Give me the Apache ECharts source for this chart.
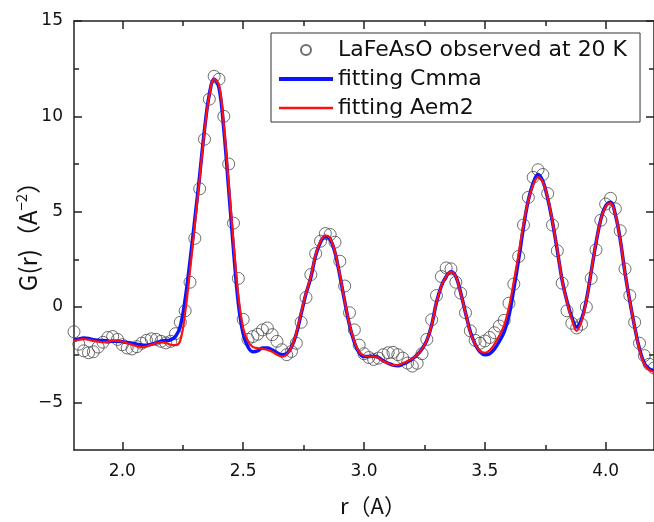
<!DOCTYPE html>
<html><head><meta charset="utf-8">
<script src="https://cdn.jsdelivr.net/npm/echarts@6/dist/echarts.min.js"></script>
<style>html,body{margin:0;padding:0;background:#fff}#c{width:654px;height:522px}</style>
</head><body><div id="c"></div>
<script>
const r = [1.80,1.82,1.84,1.86,1.88,1.90,1.92,1.94,1.96,1.98,2.00,2.02,2.04,2.06,2.08,2.10,2.12,2.14,2.16,2.18,
2.20,2.22,2.24,2.26,2.28,2.30,2.32,2.34,2.36,2.38,2.40,2.42,2.44,2.46,2.48,2.50,2.52,2.54,2.56,2.58,
2.60,2.62,2.64,2.66,2.68,2.70,2.72,2.74,2.76,2.78,2.80,2.82,2.84,2.86,2.88,2.90,2.92,2.94,2.96,2.98,
3.00,3.02,3.04,3.06,3.08,3.10,3.12,3.14,3.16,3.18,3.20,3.22,3.24,3.26,3.28,3.30,3.32,3.34,3.36,3.38,
3.40,3.42,3.44,3.46,3.48,3.50,3.52,3.54,3.56,3.58,3.60,3.62,3.64,3.66,3.68,3.70,3.72,3.74,3.76,3.78,
3.80,3.82,3.84,3.86,3.88,3.90,3.92,3.94,3.96,3.98,4.00,4.02,4.04,4.06,4.08,4.10,4.12,4.14,4.16,4.18,4.20];

const observed = [-1.3,-1.95,-2.3,-2.4,-2.35,-2.1,-1.85,-1.6,-1.55,-1.7,-1.98,-2.15,-2.2,-2.08,-1.9,-1.75,-1.67,-1.7,-1.8,-1.88,
-1.8,-1.4,-0.8,-0.2,1.3,3.6,6.2,8.8,10.9,12.1,11.95,10.0,7.5,4.4,1.5,-0.65,-1.7,-1.55,-1.43,-1.2,
-1.1,-1.45,-1.8,-2.24,-2.5,-2.33,-1.9,-0.8,0.5,1.7,2.8,3.45,3.85,3.8,3.4,2.4,1.1,-0.3,-1.2,-2.0,
-2.45,-2.65,-2.75,-2.68,-2.5,-2.4,-2.38,-2.5,-2.68,-2.94,-3.1,-2.95,-2.45,-1.7,-0.67,0.6,1.6,2.05,2.0,1.3,
0.73,-0.3,-1.25,-1.75,-1.9,-1.78,-1.6,-1.35,-1.0,-0.7,0.2,1.2,2.65,4.3,5.75,6.8,7.2,6.95,5.95,4.3,
2.95,1.25,-0.2,-0.85,-1.1,-0.9,0.0,1.5,3.0,4.55,5.4,5.7,5.15,4.0,2.0,0.6,-0.8,-1.9,-2.55,-3.0,-3.2];

const fitCmma = [-1.75,-1.68,-1.63,-1.65,-1.72,-1.75,-1.76,-1.78,-1.8,-1.8,-1.82,-1.86,-1.9,-1.95,-1.99,-2.0,-1.96,-1.88,-1.8,-1.76,
-1.72,-1.55,-1.0,0.4,2.4,4.6,6.9,9.3,11.15,11.95,11.5,9.3,6.2,3.0,0.2,-1.4,-2.1,-2.35,-2.3,-2.15,
-2.15,-2.25,-2.4,-2.5,-2.45,-2.1,-1.4,-0.35,0.7,1.55,2.7,3.4,3.7,3.55,2.85,1.65,0.3,-0.95,-1.85,-2.4,
-2.6,-2.6,-2.58,-2.65,-2.82,-2.95,-3.05,-3.08,-3.0,-2.88,-2.72,-2.5,-2.2,-1.75,-0.95,0.25,1.1,1.6,1.85,1.6,
0.75,-0.3,-1.3,-1.95,-2.35,-2.5,-2.45,-2.2,-1.8,-1.3,-0.45,0.95,2.5,4.2,5.6,6.5,6.95,6.6,5.7,4.45,
2.95,1.4,0.3,-0.55,-1.05,-0.65,0.35,1.85,3.35,4.6,5.3,5.5,4.85,3.55,1.8,0.3,-1.05,-2.2,-2.95,-3.25,-3.35];

const fitAem2 = [-1.8,-1.72,-1.68,-1.72,-1.78,-1.82,-1.85,-1.82,-1.76,-1.76,-1.82,-1.9,-1.98,-2.05,-2.1,-2.08,-1.98,-1.9,-1.86,-1.88,
-1.98,-2.0,-1.75,-0.3,1.9,4.3,6.75,9.2,11.1,11.95,11.65,9.55,6.5,3.4,0.6,-1.1,-1.8,-2.1,-2.15,-2.2,
-2.25,-2.35,-2.5,-2.6,-2.5,-2.1,-1.35,-0.3,0.75,1.6,2.75,3.45,3.75,3.6,2.9,1.7,0.35,-0.9,-1.8,-2.35,
-2.55,-2.6,-2.6,-2.68,-2.85,-2.95,-3.05,-3.05,-2.95,-2.85,-2.7,-2.5,-2.2,-1.75,-0.95,0.25,1.1,1.6,1.85,1.6,
0.73,-0.3,-1.35,-1.95,-2.3,-2.4,-2.27,-1.95,-1.5,-0.95,0.0,1.35,2.8,4.35,5.6,6.4,6.8,6.55,5.75,4.5,
3.0,1.4,0.25,-0.65,-1.25,-0.75,0.3,1.85,3.35,4.6,5.25,5.45,4.85,3.55,1.8,0.3,-1.05,-2.25,-3.0,-3.3,-3.4];

const xMajor = [2.0, 2.5, 3.0, 3.5, 4.0];
const xMinor = [2.25, 2.75, 3.25, 3.75];
const yMajor = [-5, 0, 5, 10, 15];
const yMinor = [-2.5, 2.5, 7.5, 12.5];

const FONT = 'DejaVu Sans';
const TFONT = '"Noto Sans CJK JP"';
const AX = '#222';
const xMin = 1.8, xMax = 4.2, yMin = -7.5, yMax = 15;

function xAx(pos, ticks, len, showLine, showLabel, extra) {
  return Object.assign({
    type: 'value', position: pos, min: xMin, max: xMax, gridIndex: 0,
    axisLine: { show: showLine, onZero: false, lineStyle: { color: AX, width: 1.5 } },
    axisTick: { show: true, inside: true, length: len, customValues: ticks, lineStyle: { color: AX, width: 1.5 } },
    axisLabel: showLabel ? { show: true, customValues: ticks, margin: 13, fontFamily: FONT, fontSize: 17, color: '#111',
      formatter: v => Number(v).toFixed(1) } : { show: false },
    splitLine: { show: false }
  }, extra || {});
}
function yAx(pos, ticks, len, showLine, showLabel, extra) {
  return Object.assign({
    type: 'value', position: pos, min: yMin, max: yMax, gridIndex: 0,
    axisLine: { show: showLine, onZero: false, lineStyle: { color: AX, width: 1.5 } },
    axisTick: { show: true, inside: true, length: len, customValues: ticks, lineStyle: { color: AX, width: 1.5 } },
    axisLabel: showLabel ? { show: true, customValues: ticks, margin: 11, fontFamily: FONT, fontSize: 17, color: '#111',
      formatter: v => (v < 0 ? '\u2212' + Math.abs(v) : String(v)) } : { show: false },
    splitLine: { show: false }
  }, extra || {});
}

const chart = echarts.init(document.getElementById('c'), null, { renderer: 'canvas' });
chart.setOption({
  animation: false,
  backgroundColor: '#fff',
  grid: { left: 74, top: 21, width: 585, height: 430, containLabel: false },
  xAxis: [
    xAx('bottom', xMajor, 8, true, true, {
      name: 'r\uFF08A\uFF09', nameLocation: 'middle', nameGap: 45, nameMoveOverlap: false,
      nameTextStyle: { fontFamily: TFONT, fontSize: 22, color: '#111', padding: [0, 0, 0, 18] }
    }),
    xAx('bottom', xMinor, 5, false, false),
    xAx('top', xMajor, 8, true, false),
    xAx('top', xMinor, 5, false, false)
  ],
  yAxis: [
    yAx('left', yMajor, 8, true, true, {
      name: 'G(r)\uFF08A{sup|\u22122}\uFF09', nameLocation: 'middle', nameGap: 33, nameMoveOverlap: false,
      nameTextStyle: { fontFamily: TFONT, fontSize: 24, color: '#111', padding: [0, 0, 0, 10],
        rich: { sup: { fontFamily: TFONT, fontSize: 15, color: '#111', padding: [0, 0, 12, 0] } } }
    }),
    yAx('left', yMinor, 5, false, false),
    yAx('right', yMajor, 8, true, false),
    yAx('right', yMinor, 5, false, false)
  ],
  legend: {
    left: 271, top: 33, orient: 'vertical',
    itemWidth: 54, itemHeight: 10, itemGap: 7,
    padding: [6, 13, 3, 8],
    borderColor: '#333', borderWidth: 1, backgroundColor: '#fff',
    textStyle: { fontFamily: FONT, fontSize: 22, color: '#111' },
    data: [
      { name: 'LaFeAsO observed at 20 K' },
      { name: 'fitting Cmma', icon: 'path://M0,0H54V4H0Z' },
      { name: 'fitting Aem2', icon: 'path://M0,0H54V2.4H0Z' }
    ]
  },
  series: [
    {
      name: 'LaFeAsO observed at 20 K', type: 'scatter', xAxisIndex: 0, yAxisIndex: 0,
      symbol: 'circle', symbolSize: 12,
      itemStyle: { color: 'rgba(0,0,0,0)', borderColor: '#4a4a4a', borderWidth: 1 },
      data: r.map((x, i) => [x, observed[i]])
    },
    {
      name: 'fitting Cmma', type: 'line', xAxisIndex: 0, yAxisIndex: 0,
      symbol: 'none', smooth: 0.4, color: '#0a14ff',
      lineStyle: { color: '#0a14ff', width: 3.5 },
      data: r.map((x, i) => [x, fitCmma[i]])
    },
    {
      name: 'fitting Aem2', type: 'line', xAxisIndex: 0, yAxisIndex: 0,
      symbol: 'none', smooth: 0.4, color: '#ff1010',
      lineStyle: { color: '#ff1010', width: 2.2 },
      data: r.map((x, i) => [x, fitAem2[i]])
    }
  ]
});
</script>
</body></html>
